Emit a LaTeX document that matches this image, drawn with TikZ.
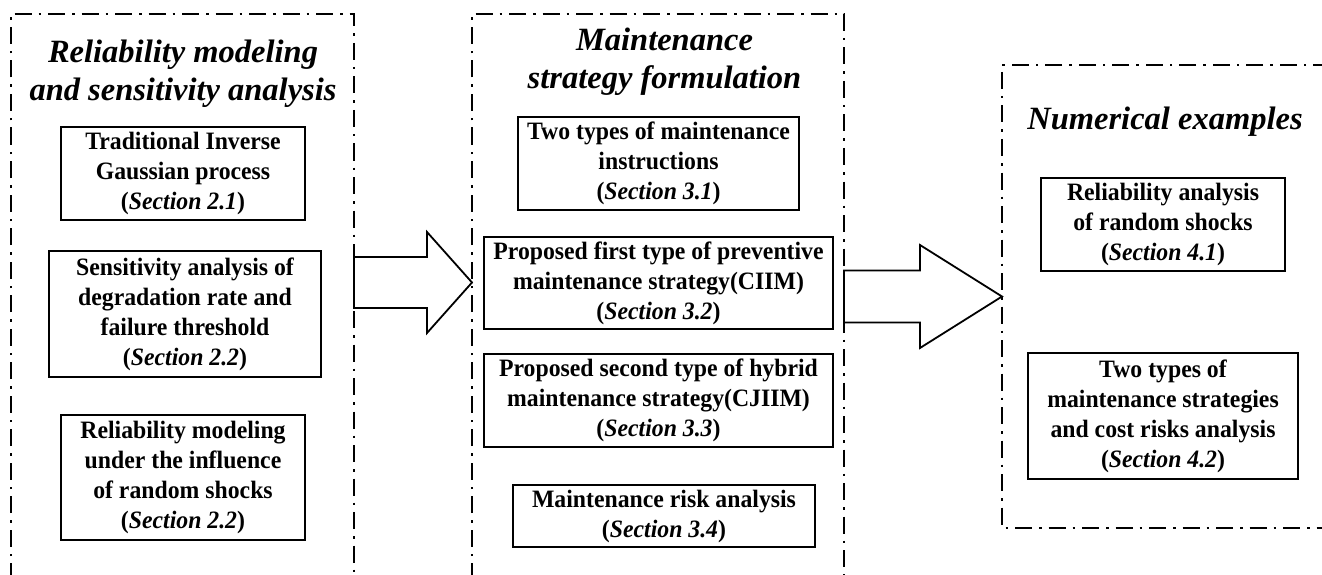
\documentclass[tikz,border=0pt]{standalone}
\usepackage{fontspec}
\setmainfont{Liberation Serif}
\newfontfamily\boxfont[FakeStretch=0.95]{Liberation Serif}
\usetikzlibrary{calc}

\begin{document}
\begin{tikzpicture}[
		x=1pt, y=-1pt,
		secbox/.style={draw, line width=2pt, align=center, inner sep=0pt,
			font=\boxfont\bfseries\fontsize{25}{30}\selectfont},
		grouptitle/.style={align=center, inner sep=0pt,
			font=\bfseries\itshape\fontsize{32.5}{38}\selectfont},
		groupframe/.style={line width=2pt, dash pattern=on 17pt off 7pt on 2.5pt off 7pt},
		blockarrow/.style={line width=1.8pt, fill=white, line join=miter}
	]
  \useasboundingbox (0,0) rectangle (1322,575);
  % group frames (cut by the page)
  \coordinate (L_nw) at (11,14);
  \coordinate (L_ne) at (354,14);
  \coordinate (M_nw) at (472,14);
  \coordinate (M_ne) at (844,14);
  \coordinate (R_nw) at (1002,65);
  \coordinate (R_sw) at (1002,528);
  \draw[groupframe] (11,580) -- (L_nw) -- (L_ne) -- (354,580);
  \draw[groupframe] (472,580) -- (M_nw) -- (M_ne) -- (844,580);
  \draw[groupframe] (1330,65) -- (R_nw) -- (R_sw) -- (1330,528);
  % titles
  \node (t_rel) [grouptitle] at (183,74) {Reliability modeling\\and sensitivity analysis};
  \node (t_mnt) [grouptitle] at (664.5,62) {Maintenance\\strategy formulation};
  \node (t_num) [grouptitle] at (1165,122) {Numerical examples};
  % reliability modeling
  \node (s21) [secbox, minimum width=244, minimum height=93] at (183,173.5)
    {Traditional Inverse\\Gaussian process\\(\textit{Section 2.1})};
  \node (s22a) [secbox, minimum width=272, minimum height=126] at (185,314)
    {Sensitivity analysis of\\degradation rate and\\failure threshold\\(\textit{Section 2.2})};
  \node (s22b) [secbox, minimum width=244, minimum height=125] at (183,477.5)
    {Reliability modeling\\under the influence\\of random shocks\\(\textit{Section 2.2})};
  % maintenance strategy
  \node (s31) [secbox, minimum width=281, minimum height=93] at (658.5,163.5)
    {Two types of maintenance\\instructions\\(\textit{Section 3.1})};
  \node (s32) [secbox, minimum width=349, minimum height=92] at (658.5,283)
    {Proposed first type of preventive\\maintenance strategy(CIIM)\\(\textit{Section 3.2})};
  \node (s33) [secbox, minimum width=349, minimum height=93] at (658.5,400.5)
    {Proposed second type of hybrid\\maintenance strategy(CJIIM)\\(\textit{Section 3.3})};
  \node (s34) [secbox, minimum width=302, minimum height=62] at (664,516)
    {Maintenance risk analysis\\(\textit{Section 3.4})};
  % numerical examples
  \node (s41) [secbox, minimum width=244, minimum height=93] at (1163,224.5)
    {Reliability analysis\\of random shocks\\(\textit{Section 4.1})};
  \node (s42) [secbox, minimum width=270, minimum height=126] at (1163,416)
    {Two types of\\maintenance strategies\\and cost risks analysis\\(\textit{Section 4.2})};
  % block arrows between the frames
  \coordinate (a1_s) at (354,282.5);
  \coordinate (a1_e) at (472,282.5);
  \coordinate (a2_s) at (844,296.5);
  \coordinate (a2_e) at (1002,296.5);
  \draw[blockarrow] ($(a1_s)+(0,-25.5)$) -- ($(a1_e)+(-45,-25.5)$) -- ($(a1_e)+(-45,-50.5)$)
    -- (a1_e) -- ($(a1_e)+(-45,50.5)$) -- ($(a1_e)+(-45,25.5)$) -- ($(a1_s)+(0,25.5)$) -- cycle;
  \draw[blockarrow] ($(a2_s)+(0,-26)$) -- ($(a2_e)+(-82,-26)$) -- ($(a2_e)+(-82,-51.5)$)
    -- (a2_e) -- ($(a2_e)+(-82,51.5)$) -- ($(a2_e)+(-82,26)$) -- ($(a2_s)+(0,26)$) -- cycle;
\end{tikzpicture}
\end{document}
